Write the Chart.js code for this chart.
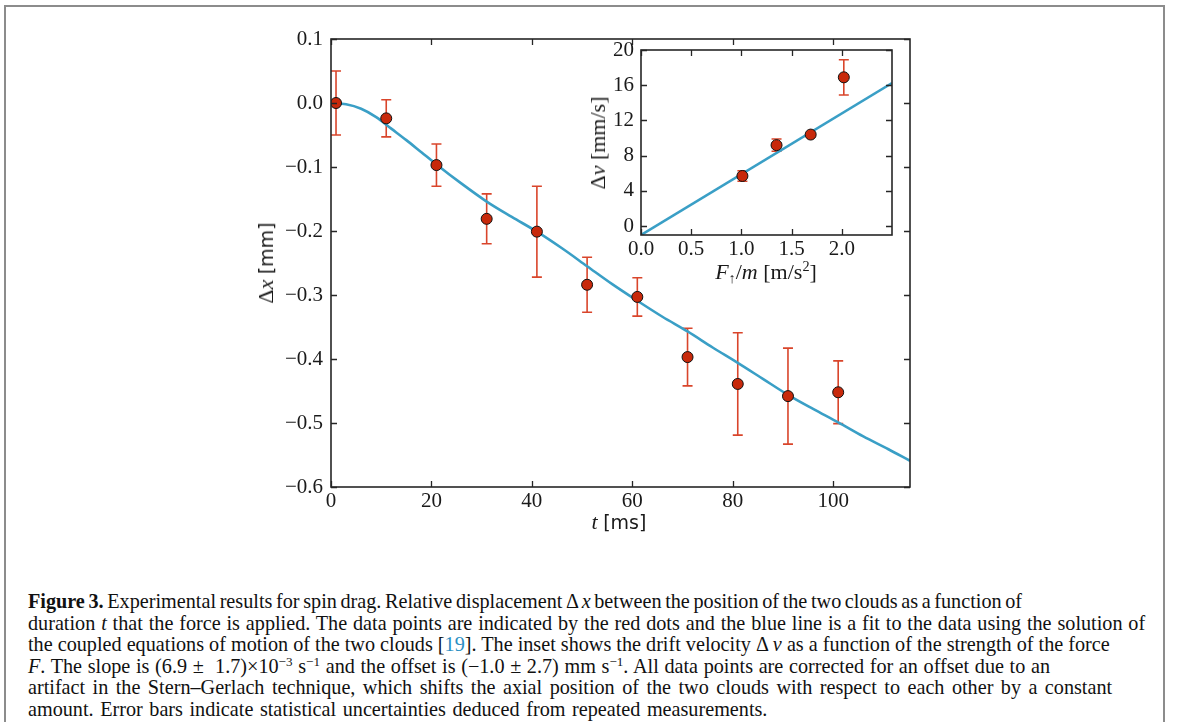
<!DOCTYPE html>
<html>
<head>
<meta charset="utf-8">
<script src="https://cdn.jsdelivr.net/npm/chart.js@4.4.1/dist/chart.umd.min.js"></script>
<style>
    html, body { margin: 0; padding: 0; background: #fff; }
    body { width: 1179px; height: 722px; position: relative; overflow: hidden; font-family: "Liberation Serif", serif; color: #1a1a1a; }
    #frame { position: absolute; left: 4px; top: 5px; width: 1157px; height: 760px; border: 2px solid #8c8c8c; border-bottom: none; }
    canvas { position: absolute; }
    .lbl { position: absolute; white-space: nowrap; font-size: 22px; transform: translate(-50%, -50%); }
    .rot { transform: translate(-50%, -50%) rotate(-90deg); }
    .sans { font-family: "DejaVu Sans", sans-serif; font-size: 19px; }
    #caption { position: absolute; left: 28px; top: 591px; font-size: 20.2px; line-height: 21.5px; white-space: nowrap; color: #111; }
    #caption b { font-weight: bold; }
    #caption .ref { color: #2a8fc4; }
    sup { font-size: 65%; vertical-align: 0.55em; line-height: 0; }
    sub { font-size: 65%; vertical-align: -0.3em; line-height: 0; }
</style>
</head>
<body>
<div id="frame"></div>
<canvas id="mainChart" width="1179" height="560" style="left:0;top:0"></canvas>
<canvas id="insetChart" width="360" height="280" style="left:560px;top:20px"></canvas>

<div class="lbl rot" style="left:266px;top:263px">Δ<i>x</i> <span class="sans">[mm]</span></div>
<div class="lbl" style="left:619px;top:522px"><i>t</i> <span class="sans">[ms]</span></div>
<div class="lbl rot" style="left:598px;top:143px">Δ<i>v</i> [mm/s]</div>
<div class="lbl" style="left:766px;top:272px"><i>F</i><sub>↑</sub>/<i>m</i> [m/s<sup>2</sup>]</div>

<div id="caption">
<div style="word-spacing:-1.4px"><b>Figure 3.</b> Experimental results for spin drag. Relative displacement Δ <i>x</i> between the position of the two clouds as a function of</div>
<div style="word-spacing:0.8px">duration <i>t</i> that the force is applied. The data points are indicated by the red dots and the blue line is a fit to the data using the solution of</div>
<div>the coupled equations of motion of the two clouds [<span class="ref">19</span>]. The inset shows the drift velocity Δ <i>v</i> as a function of the strength of the force</div>
<div style="word-spacing:0.6px"><i>F</i>. The slope is (6.9 ±&nbsp; 1.7)×10<sup>−3</sup> s<sup>−1</sup> and the offset is (−1.0 ± 2.7) mm s<sup>−1</sup>. All data points are corrected for an offset due to an</div>
<div style="word-spacing:2.4px">artifact in the Stern–Gerlach technique, which shifts the axial position of the two clouds with respect to each other by a constant</div>
<div style="word-spacing:1.5px">amount. Error bars indicate statistical uncertainties deduced from repeated measurements.</div>
</div>

<script>
// main plot: displacement vs time
const tValues = [1, 11, 21, 31, 41, 51, 61, 71, 81, 91, 101];
const dxValues = [0.000, -0.024, -0.097, -0.181, -0.201, -0.284, -0.303, -0.397, -0.439, -0.458, -0.452];
const dxErrors = [0.050, 0.029, 0.033, 0.039, 0.071, 0.043, 0.030, 0.045, 0.080, 0.075, 0.049];
const fitT = [0, 3, 6, 9, 12, 15, 18, 21, 26, 31, 36, 41, 46, 51, 56, 61, 66, 71, 76, 81, 86, 91, 96, 101, 106, 111, 115.3];
const fitDx = [0, -0.002, -0.009, -0.022, -0.040, -0.058, -0.077, -0.096, -0.126, -0.154, -0.178, -0.201, -0.227, -0.255, -0.283, -0.309, -0.334, -0.357, -0.382, -0.406, -0.431, -0.456, -0.478, -0.499, -0.521, -0.541, -0.559];
const mainXTicks = [0, 20, 40, 60, 80, 100];
const mainYTicks = [0.1, 0.0, -0.1, -0.2, -0.3, -0.4, -0.5, -0.6];

// inset: drift velocity vs force
const forceValues = [1.01, 1.35, 1.69, 2.02];
const dvValues = [5.7, 9.2, 10.4, 16.9];
const dvErrors = [0.6, 0.7, 0.2, 2.0];
const lineForce = [0, 2.5];
const lineDv = [-1.0, 16.25];
const insetXTicks = [0, 0.5, 1.0, 1.5, 2.0];
const insetYTicks = [0, 4, 8, 12, 16, 20];

const pointColor = "#c8290b";
const errColor = "#d9452b";
const fitColor = "#3a9fc6";
const spineColor = "#262626";

Chart.defaults.font.family = "'Liberation Serif', serif";
Chart.defaults.font.size = 21;
Chart.defaults.color = "#1a1a1a";

function toPoints(xs, ys) {
    return xs.map((x, i) => ({x: x, y: ys[i]}));
}

function minus(str) {
    return str.replace("-", "\u2212");
}

function errorBars(xs, ys, errs, capHalf) {
    return {
        id: "errorBars",
        beforeDatasetsDraw(chart) {
            const ctx = chart.ctx;
            const sx = chart.scales.x;
            const sy = chart.scales.y;
            ctx.save();
            ctx.strokeStyle = errColor;
            ctx.lineWidth = 1.6;
            xs.forEach((x, i) => {
                const px = sx.getPixelForValue(x);
                const top = sy.getPixelForValue(ys[i] + errs[i]);
                const bot = sy.getPixelForValue(ys[i] - errs[i]);
                ctx.beginPath();
                ctx.moveTo(px, top);
                ctx.lineTo(px, bot);
                ctx.moveTo(px - capHalf, top);
                ctx.lineTo(px + capHalf, top);
                ctx.moveTo(px - capHalf, bot);
                ctx.lineTo(px + capHalf, bot);
                ctx.stroke();
            });
            ctx.restore();
        }
    };
}

// box around plot area with inward ticks on all sides
const boxTicks = {
    id: "boxTicks",
    afterDatasetsDraw(chart) {
        const ctx = chart.ctx;
        const a = chart.chartArea;
        const len = 6;
        ctx.save();
        ctx.strokeStyle = spineColor;
        ctx.lineWidth = 1.3;
        ctx.beginPath();
        chart.scales.x.ticks.forEach(t => {
            const px = Math.round(chart.scales.x.getPixelForValue(t.value)) + 0.5;
            ctx.moveTo(px, a.bottom);
            ctx.lineTo(px, a.bottom - len);
            ctx.moveTo(px, a.top);
            ctx.lineTo(px, a.top + len);
        });
        chart.scales.y.ticks.forEach(t => {
            const py = Math.round(chart.scales.y.getPixelForValue(t.value)) + 0.5;
            ctx.moveTo(a.left, py);
            ctx.lineTo(a.left + len, py);
            ctx.moveTo(a.right, py);
            ctx.lineTo(a.right - len, py);
        });
        ctx.stroke();
        ctx.lineWidth = 1.6;
        ctx.strokeRect(a.left, a.top, a.right - a.left, a.bottom - a.top);
        ctx.restore();
    }
};

function axis(min, max, tickValues, size, fmt, pad) {
    return {
        type: "linear",
        min: min,
        max: max,
        grid: {display: false, drawTicks: false},
        border: {display: false},
        afterBuildTicks: (scale) => {
            scale.ticks = tickValues.map(v => ({value: v}));
        },
        afterFit: (scale) => {
            if (scale.isHorizontal()) {
                scale.height = size;
            } else {
                scale.width = size;
            }
        },
        ticks: {
            padding: pad,
            maxRotation: 0,
            autoSkip: false,
            callback: fmt
        }
    };
}

new Chart(document.getElementById("mainChart"), {
    type: "scatter",
    data: {
        datasets: [
            {
                type: "line",
                data: toPoints(fitT, fitDx),
                borderColor: fitColor,
                borderWidth: 2.6,
                pointRadius: 0,
                cubicInterpolationMode: "monotone",
                order: 2
            },
            {
                data: toPoints(tValues, dxValues),
                backgroundColor: pointColor,
                borderColor: "#111",
                borderWidth: 1,
                pointRadius: 5.5,
                order: 1
            }
        ]
    },
    options: {
        responsive: false,
        animation: false,
        layout: {padding: {left: 0, top: 39, right: 269, bottom: 0}},
        plugins: {legend: {display: false}, tooltip: {enabled: false}},
        scales: {
            x: axis(0, 115.3, mainXTicks, 73, v => String(v), 2),
            y: axis(-0.6, 0.1, mainYTicks, 331, v => minus(v.toFixed(1)), 8)
        }
    },
    plugins: [errorBars(tValues, dxValues, dxErrors, 5), boxTicks]
});

new Chart(document.getElementById("insetChart"), {
    type: "scatter",
    data: {
        datasets: [
            {
                type: "line",
                data: toPoints(lineForce, lineDv),
                borderColor: fitColor,
                borderWidth: 2.6,
                pointRadius: 0,
                order: 2
            },
            {
                data: toPoints(forceValues, dvValues),
                backgroundColor: pointColor,
                borderColor: "#111",
                borderWidth: 1,
                pointRadius: 5.5,
                order: 1
            }
        ]
    },
    options: {
        responsive: false,
        animation: false,
        layout: {padding: {left: 0, top: 30, right: 28, bottom: 0}},
        plugins: {legend: {display: false}, tooltip: {enabled: false}},
        scales: {
            x: axis(0, 2.5, insetXTicks, 65, v => v.toFixed(1), 2),
            y: axis(-1, 20, insetYTicks, 81, v => String(v), 7)
        }
    },
    plugins: [errorBars(forceValues, dvValues, dvErrors, 5), boxTicks]
});
</script>
</body>
</html>
